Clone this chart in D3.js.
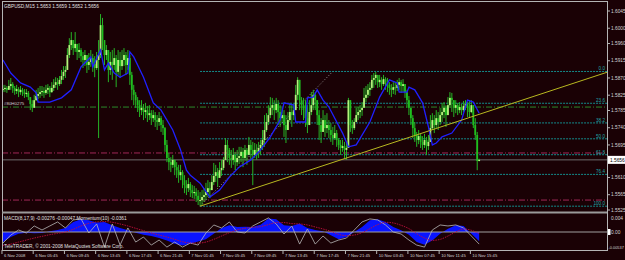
<!DOCTYPE html>
<html>
<head>
<meta charset="utf-8">
<script src="https://cdn.jsdelivr.net/npm/d3@7"></script>
<style>
  html, body { margin: 0; padding: 0; background: #1a0105; }
  svg { display: block; font-family: "Liberation Sans", Arial, sans-serif; }
</style>
</head>
<body>
<svg width="625" height="260"></svg>
<script>
// GBPUSD M15, bars 0..244 (6 Nov 01:45 -> 10 Nov ~17:00)
const close = [
  1.5841,1.5844,1.5839,1.5849,1.5854,1.5844,1.5836,1.5841,1.5833,1.5839,
  1.5833,1.5828,1.5831,1.5820,1.5802,1.5792,1.5812,1.5823,1.5828,1.5833,
  1.5836,1.5831,1.5839,1.5844,1.5833,1.5844,1.5852,1.5859,1.5854,1.5865,
  1.5875,1.5886,1.5891,1.5930,1.5956,1.5969,1.5948,1.5959,1.5938,1.5943,
  1.5927,1.5917,1.5930,1.5904,1.5912,1.5922,1.5907,1.5896,1.5917,1.5930,
  1.6008,1.5969,1.5930,1.5943,1.5891,1.5912,1.5904,1.5922,1.5886,1.5917,
  1.5901,1.5917,1.5930,1.5904,1.5922,1.5878,1.5839,1.5826,1.5812,1.5799,
  1.5786,1.5792,1.5781,1.5786,1.5773,1.5778,1.5765,1.5773,1.5760,1.5755,
  1.5765,1.5747,1.5739,1.5695,1.5661,1.5650,1.5643,1.5656,1.5637,1.5629,
  1.5616,1.5624,1.5603,1.5590,1.5582,1.5593,1.5577,1.5569,1.5572,1.5562,
  1.5551,1.5551,1.5559,1.5564,1.5572,1.5582,1.5577,1.5598,1.5614,1.5624,
  1.5609,1.5629,1.5635,1.5656,1.5695,1.5682,1.5661,1.5656,1.5669,1.5650,
  1.5661,1.5666,1.5677,1.5661,1.5682,1.5669,1.5695,1.5682,1.5669,1.5682,
  1.5677,1.5687,1.5695,1.5708,1.5734,1.5755,1.5773,1.5792,1.5799,1.5786,
  1.5802,1.5781,1.5765,1.5773,1.5747,1.5734,1.5760,1.5781,1.5773,1.5786,
  1.5826,1.5865,1.5812,1.5799,1.5786,1.5765,1.5747,1.5781,1.5799,1.5826,
  1.5812,1.5773,1.5747,1.5729,1.5760,1.5739,1.5747,1.5734,1.5721,1.5713,
  1.5726,1.5708,1.5695,1.5687,1.5692,1.5682,1.5687,1.5812,1.5747,1.5739,
  1.5755,1.5773,1.5781,1.5786,1.5792,1.5818,1.5826,1.5839,1.5844,1.5865,
  1.5870,1.5878,1.5859,1.5865,1.5854,1.5867,1.5859,1.5852,1.5844,1.5839,
  1.5846,1.5844,1.5852,1.5859,1.5849,1.5854,1.5833,1.5812,1.5792,1.5765,
  1.5739,1.5721,1.5708,1.5718,1.5703,1.5695,1.5708,1.5692,1.5703,1.5739,
  1.5760,1.5747,1.5765,1.5755,1.5773,1.5781,1.5792,1.5773,1.5799,1.5818,
  1.5812,1.5792,1.5799,1.5786,1.5794,1.5786,1.5797,1.5802,1.5792,1.5781,
  1.5799,1.5747,1.5721,1.5653,1.5656
];
const high = [
  1.5852,1.5852,1.5849,1.5865,1.5870,1.5859,1.5849,1.5852,1.5846,1.5849,
  1.5844,1.5841,1.5841,1.5836,1.5820,1.5812,1.5826,1.5839,1.5844,1.5849,
  1.5849,1.5846,1.5852,1.5854,1.5849,1.5859,1.5867,1.5872,1.5870,1.5875,
  1.5891,1.5901,1.5901,1.5948,1.5974,1.5990,1.5969,1.5990,1.5959,1.5961,
  1.5948,1.5938,1.5943,1.5930,1.5935,1.5943,1.5933,1.5927,1.5938,1.5969,
  1.6037,1.6027,1.5969,1.5956,1.5943,1.5938,1.5943,1.5948,1.5930,1.5943,
  1.5938,1.5943,1.5948,1.5938,1.5943,1.5930,1.5886,1.5852,1.5833,1.5820,
  1.5812,1.5812,1.5802,1.5805,1.5797,1.5799,1.5786,1.5786,1.5781,1.5773,
  1.5781,1.5771,1.5760,1.5742,1.5708,1.5674,1.5663,1.5669,1.5656,1.5650,
  1.5643,1.5643,1.5629,1.5616,1.5603,1.5609,1.5598,1.5590,1.5588,1.5582,
  1.5577,1.5572,1.5577,1.5582,1.5596,1.5603,1.5598,1.5616,1.5648,1.5643,
  1.5635,1.5650,1.5656,1.5663,1.5713,1.5708,1.5687,1.5682,1.5687,1.5677,
  1.5682,1.5690,1.5690,1.5687,1.5695,1.5687,1.5716,1.5708,1.5703,1.5700,
  1.5697,1.5703,1.5708,1.5734,1.5773,1.5778,1.5799,1.5820,1.5818,1.5812,
  1.5818,1.5812,1.5799,1.5792,1.5786,1.5773,1.5781,1.5805,1.5799,1.5802,
  1.5852,1.5872,1.5865,1.5820,1.5818,1.5812,1.5799,1.5812,1.5833,1.5839,
  1.5833,1.5812,1.5786,1.5765,1.5786,1.5773,1.5778,1.5760,1.5752,1.5742,
  1.5747,1.5734,1.5713,1.5708,1.5708,1.5703,1.5703,1.5818,1.5812,1.5760,
  1.5765,1.5792,1.5794,1.5799,1.5807,1.5844,1.5849,1.5854,1.5859,1.5878,
  1.5883,1.5886,1.5878,1.5878,1.5872,1.5878,1.5872,1.5870,1.5859,1.5854,
  1.5859,1.5859,1.5865,1.5870,1.5865,1.5867,1.5854,1.5839,1.5823,1.5792,
  1.5773,1.5755,1.5729,1.5734,1.5724,1.5718,1.5724,1.5716,1.5721,1.5773,
  1.5778,1.5773,1.5786,1.5781,1.5792,1.5805,1.5807,1.5799,1.5820,1.5833,
  1.5831,1.5812,1.5812,1.5805,1.5807,1.5802,1.5810,1.5812,1.5807,1.5812,
  1.5812,1.5799,1.5765,1.5729,1.5659
];
const low = [
  1.5833,1.5833,1.5831,1.5839,1.5839,1.5831,1.5826,1.5828,1.5820,1.5826,
  1.5823,1.5818,1.5820,1.5812,1.5786,1.5781,1.5797,1.5810,1.5815,1.5818,
  1.5823,1.5818,1.5826,1.5828,1.5820,1.5831,1.5836,1.5844,1.5839,1.5849,
  1.5854,1.5865,1.5870,1.5891,1.5922,1.5943,1.5930,1.5938,1.5917,1.5922,
  1.5912,1.5896,1.5901,1.5883,1.5891,1.5899,1.5886,1.5872,1.5891,1.5713,
  1.5922,1.5943,1.5904,1.5917,1.5859,1.5878,1.5865,1.5891,1.5846,1.5878,
  1.5870,1.5891,1.5901,1.5878,1.5891,1.5852,1.5812,1.5799,1.5792,1.5781,
  1.5768,1.5773,1.5760,1.5765,1.5755,1.5760,1.5747,1.5755,1.5742,1.5734,
  1.5745,1.5729,1.5721,1.5677,1.5650,1.5629,1.5624,1.5635,1.5616,1.5609,
  1.5596,1.5603,1.5582,1.5569,1.5564,1.5572,1.5559,1.5556,1.5554,1.5546,
  1.5538,1.5535,1.5538,1.5546,1.5551,1.5559,1.5556,1.5577,1.5590,1.5598,
  1.5585,1.5609,1.5614,1.5629,1.5656,1.5650,1.5643,1.5635,1.5643,1.5629,
  1.5640,1.5645,1.5650,1.5637,1.5656,1.5643,1.5669,1.5656,1.5590,1.5661,
  1.5656,1.5661,1.5669,1.5682,1.5690,1.5729,1.5747,1.5765,1.5773,1.5760,
  1.5778,1.5747,1.5742,1.5755,1.5716,1.5700,1.5734,1.5755,1.5742,1.5760,
  1.5794,1.5812,1.5786,1.5773,1.5760,1.5742,1.5726,1.5755,1.5773,1.5786,
  1.5786,1.5747,1.5708,1.5700,1.5734,1.5716,1.5726,1.5713,1.5703,1.5695,
  1.5708,1.5690,1.5682,1.5669,1.5677,1.5661,1.5656,1.5734,1.5729,1.5724,
  1.5734,1.5755,1.5760,1.5765,1.5771,1.5799,1.5807,1.5818,1.5823,1.5839,
  1.5844,1.5852,1.5844,1.5846,1.5839,1.5849,1.5839,1.5833,1.5826,1.5820,
  1.5828,1.5826,1.5836,1.5839,1.5831,1.5833,1.5818,1.5792,1.5773,1.5747,
  1.5713,1.5703,1.5690,1.5697,1.5687,1.5682,1.5687,1.5669,1.5682,1.5716,
  1.5734,1.5726,1.5739,1.5734,1.5747,1.5755,1.5765,1.5742,1.5773,1.5792,
  1.5781,1.5768,1.5778,1.5773,1.5778,1.5773,1.5781,1.5786,1.5768,1.5768,
  1.5778,1.5739,1.5708,1.5629,1.5652
];

// blue moving average, read at these bars
const maBar = [0,4,9,14,17,18,24,30,35,40,45,46,50,52,54,57,60,64,65,67,
  72,77,81,87,91,94,96,101,106,111,116,121,127,132,137,142,144,149,150,155,
  156,159,161,164,167,174,177,181,188,193,198,202,203,207,208,211,215,218,220,222,
  225,230,235,238,241,244];
const maPrice = [1.5917,1.5883,1.5857,1.5846,1.5831,1.5807,1.5807,1.5818,1.5839,1.5899,
  1.5925,1.5899,1.5943,1.5891,1.5909,1.5883,1.5872,1.5883,1.5938,1.5925,
  1.5872,1.5805,1.5786,1.5734,1.5682,1.5629,1.5616,1.5595,1.5559,1.5577,
  1.5611,1.5637,1.5656,1.5682,1.5716,1.5760,1.5805,1.5799,1.5755,1.5755,
  1.5818,1.5820,1.5839,1.5812,1.5794,1.5726,1.5690,1.5695,1.5755,1.5820,
  1.5865,1.5857,1.5833,1.5833,1.5846,1.5839,1.5805,1.5742,1.5695,1.5700,
  1.5716,1.5726,1.5760,1.5812,1.5807,1.5778];

// MACD window, read every 4th bar
const macd = [-0.0030,-0.0015,-0.0005,-0.0002,-0.0004,-0.0003,0.0002,0.0006,0.0012,0.0030,
  0.0038,0.0035,0.0028,0.0030,0.0020,0.0012,0.0005,-0.0002,-0.0008,-0.0012,
  -0.0018,-0.0025,-0.0035,-0.0040,-0.0035,-0.0028,-0.0022,-0.0005,0.0012,0.0020,
  0.0015,0.0016,0.0015,0.0022,0.0040,0.0038,0.0020,0.0018,0.0025,0.0012,
  0.0006,0.0002,-0.0010,-0.0022,-0.0015,0.0000,0.0015,0.0035,0.0038,0.0030,
  0.0015,0.0005,-0.0008,-0.0030,-0.0038,-0.0025,-0.0005,0.0010,0.0020,0.0018,
  -0.0005,-0.00276];
const signal = [-0.0040,-0.0036,-0.0030,-0.0024,-0.0018,-0.0013,-0.0008,-0.0004,0.0000,0.0008,
  0.0018,0.0026,0.0030,0.0031,0.0029,0.0024,0.0018,0.0011,0.0004,-0.0003,
  -0.0009,-0.0015,-0.0022,-0.0029,-0.0033,-0.0033,-0.0030,-0.0022,-0.0012,-0.0002,
  0.0006,0.0011,0.0014,0.0016,0.0022,0.0028,0.0028,0.0025,0.0024,0.0021,
  0.0015,0.0009,0.0002,-0.0007,-0.0011,-0.0009,-0.0002,0.0010,0.0022,0.0029,
  0.0027,0.0020,0.0010,-0.0005,-0.0018,-0.0025,-0.0022,-0.0012,0.0000,0.0009,
  0.0005,-0.00047];
const momentum = [-0.033,-0.009,0.006,-0.003,0.018,0.006,0.018,0.030,0.012,0.036,
  0.039,-0.003,0.024,-0.045,0.024,-0.039,0.012,-0.030,-0.015,-0.039,
  -0.024,-0.045,-0.030,-0.045,-0.033,-0.039,-0.003,0.021,0.012,0.030,
  0.000,-0.003,0.018,0.030,0.042,0.024,-0.006,0.018,-0.036,0.009,
  -0.036,-0.012,-0.033,-0.024,-0.018,0.006,0.030,0.039,0.036,0.021,
  0.000,-0.006,-0.024,-0.039,-0.045,0.006,0.021,0.018,0.021,0.012,
  -0.012,-0.0361];

// 1.5650 sits under the bid box, so it is not labelled
const priceTicks = [1.6045,1.6000,1.5960,1.5915,1.5870,1.5825,1.5785,1.5740,1.5695,1.5610,1.5565,1.5525];
const macdTicks = [0.004, 0, -0.00537];
const macdTickLabels = ["0.004", "0.00", "-0.00537"];
const timeBars = [0,16,32,48,64,80,96,112,128,144,160,176,192,208,224,240];
const timeLabels = ["6 Nov 2008","6 Nov 05:45","6 Nov 09:45","6 Nov 13:45","6 Nov 17:45","6 Nov 21:45",
  "7 Nov 01:45","7 Nov 05:45","7 Nov 09:45","7 Nov 13:45","7 Nov 17:45","7 Nov 21:45",
  "10 Nov 03:45","10 Nov 07:45","10 Nov 11:45","10 Nov 15:45"];

// objects on the chart
const fibRatios = [0, 23.6, 38.2, 50, 61.8, 76.4, 100];
const fibBars = [101, 169], fibPrices = [1.5535, 1.5887];
const trendBars = [101, 244], trendPrices = [1.5535, 1.5775];
const greenLine = 1.5794, greenLineName = "#80H0275";
const redLines = [1.5674, 1.5551];
const bid = 1.5656;

var svg = d3.select("svg"),
    width = +svg.attr("width"),
    height = +svg.attr("height");

var x = d3.scaleLinear().domain([-0.5, 309.5]).range([2, 607]),
    y = d3.scaleLinear().domain([1.5525, 1.6045]).range([210, 11]),
    ym = d3.scaleLinear().domain([-0.00537, 0.00537]).range([250, 214]);

var x0 = 2, x1 = 607;

svg.append("rect").attr("width", width).attr("height", height).attr("fill", "#1a0105");

var defs = svg.append("defs");
defs.append("clipPath").attr("id", "cmain")
    .append("rect").attr("x", 2).attr("y", 2).attr("width", 605).attr("height", 209);
defs.append("clipPath").attr("id", "csub")
    .append("rect").attr("x", 2).attr("y", 214).attr("width", 605).attr("height", 36);

var main = svg.append("g").attr("clip-path", "url(#cmain)");

// horizontal lines
main.append("line")
    .attr("x1", x0).attr("x2", x1)
    .attr("y1", y(greenLine)).attr("y2", y(greenLine))
    .attr("stroke", "#2a8a2a").attr("stroke-dasharray", "6,2,1,2");
main.selectAll(".red").data(redLines).enter().append("line")
    .attr("x1", x0).attr("x2", x1)
    .attr("y1", d => y(d)).attr("y2", d => y(d))
    .attr("stroke", "#a02858").attr("stroke-dasharray", "6,2,1,2");
main.append("line")
    .attr("x1", x0).attr("x2", x1)
    .attr("y1", y(bid)).attr("y2", y(bid))
    .attr("stroke", "#6c6c6c");

// fibonacci
var fibRange = fibPrices[1] - fibPrices[0];
var fib = main.append("g");
fib.selectAll("line").data(fibRatios).enter().append("line")
   .attr("x1", x(fibBars[0])).attr("x2", x1)
   .attr("y1", d => y(fibPrices[1] - d / 100 * fibRange))
   .attr("y2", d => y(fibPrices[1] - d / 100 * fibRange))
   .attr("stroke", "#138c8c").attr("stroke-dasharray", "2,1");
fib.append("line")
   .attr("x1", x(fibBars[0])).attr("y1", y(fibPrices[0]))
   .attr("x2", x(fibBars[1])).attr("y2", y(fibPrices[1]))
   .attr("stroke", "#9a9a9a").attr("stroke-dasharray", "1,2");

// candles
var bars = close.map((c, i) => {
  var o = i ? close[i - 1] : c;
  return {i: i, o: o, c: c, h: Math.max(high[i], o, c), l: Math.min(low[i], o, c)};
});
main.append("g").selectAll("line").data(bars).enter().append("line")
    .attr("x1", d => x(d.i)).attr("x2", d => x(d.i))
    .attr("y1", d => y(d.h)).attr("y2", d => y(d.l))
    .attr("stroke", "#26b426").attr("stroke-width", 1);
main.append("g").selectAll("rect").data(bars).enter().append("rect")
    .attr("x", d => x(d.i) - 0.9)
    .attr("width", 1.8)
    .attr("y", d => y(Math.max(d.o, d.c)))
    .attr("height", d => Math.max(1, Math.abs(y(d.o) - y(d.c))))
    .attr("fill", d => d.c >= d.o ? "#b4f27c" : "#1fbf1f");

// moving average
main.append("path")
    .datum(maBar.map((b, i) => [b, maPrice[i]]))
    .attr("fill", "none").attr("stroke", "#2020ff").attr("stroke-width", 1.3)
    .attr("d", d3.line().x(d => x(d[0])).y(d => y(d[1])));

// trendline (ray to the right edge)
var slope = (trendPrices[1] - trendPrices[0]) / (trendBars[1] - trendBars[0]);
var endBar = x.domain()[1];
main.append("line")
    .attr("x1", x(trendBars[0])).attr("y1", y(trendPrices[0]))
    .attr("x2", x(endBar)).attr("y2", y(trendPrices[0] + slope * (endBar - trendBars[0])))
    .attr("stroke", "#b8b820").attr("stroke-width", 1);

// fib labels
fib.selectAll("text").data(fibRatios).enter().append("text")
   .attr("x", 605).attr("y", d => y(fibPrices[1] - d / 100 * fibRange) - 1.2)
   .attr("text-anchor", "end")
   .attr("font-size", 4.6).attr("fill", "#1fa4a4")
   .text(d => d.toFixed(1));

main.append("text")
    .attr("x", 4).attr("y", y(greenLine) - 2)
    .attr("font-size", 4.4).attr("fill", "#d0d0d0")
    .text(greenLineName);

// MACD window
var sub = svg.append("g").attr("clip-path", "url(#csub)");
var idx = macd.map((v, i) => i * 4);

sub.append("path")
    .datum(macd)
    .attr("fill", "#0a14ff")
    .attr("d", d3.area().x((d, i) => x(idx[i])).y0(ym(0)).y1(d => ym(d)));
sub.append("line")
    .attr("x1", x0).attr("x2", x1).attr("y1", ym(0)).attr("y2", ym(0))
    .attr("stroke", "#a0a0a0");
sub.append("path")
    .datum(momentum)
    .attr("fill", "none").attr("stroke", "#b8b8b8").attr("stroke-width", 0.8)
    .attr("d", d3.line().x((d, i) => x(idx[i])).y(d => ym(d / 10)));
sub.append("path")
    .datum(signal)
    .attr("fill", "none").attr("stroke", "#c0103c").attr("stroke-width", 0.9)
    .attr("stroke-dasharray", "1.5,1")
    .attr("d", d3.line().curve(d3.curveMonotoneX).x((d, i) => x(idx[i])).y(d => ym(d)));

// frames
var frame = svg.append("g").attr("stroke", "#b4b4b4").attr("fill", "none");
frame.append("line").attr("x1", 2.5).attr("x2", 2.5).attr("y1", 1).attr("y2", 251);
frame.append("line").attr("x1", 2).attr("x2", x1).attr("y1", 1.5).attr("y2", 1.5);
frame.append("line").attr("x1", x1 + 0.5).attr("x2", x1 + 0.5).attr("y1", 1).attr("y2", 251);
frame.append("rect").attr("x", 2).attr("y", 211.5).attr("width", 605).attr("height", 2)
     .attr("stroke", "none").attr("fill", "#9a9a9a");
frame.append("line").attr("x1", 2).attr("x2", x1).attr("y1", 250.5).attr("y2", 250.5);

// right axis
var axis = svg.append("g").attr("font-size", 4.8).attr("fill", "#d4d4d4");
axis.selectAll(".pt").data(priceTicks).enter().append("line")
    .attr("x1", x1).attr("x2", x1 + 3)
    .attr("y1", d => y(d)).attr("y2", d => y(d))
    .attr("stroke", "#b4b4b4");
axis.selectAll(".pl").data(priceTicks).enter().append("text")
    .attr("x", 611).attr("y", d => y(d) + 1.7)
    .text(d => d.toFixed(4));

axis.append("rect")
    .attr("x", 608).attr("y", y(bid) - 4).attr("width", 17).attr("height", 8)
    .attr("fill", "#ffffff");
axis.append("text")
    .attr("x", 610).attr("y", y(bid) + 1.7).attr("fill", "#000000")
    .text(bid.toFixed(4));

axis.selectAll(".ml").data(macdTicks).enter().append("text")
    .attr("x", d => d < 0 ? 608.5 : 611)
    .attr("y", d => d < 0 ? ym(d) - 1.5 : ym(d) + 1.7)
    .attr("font-size", d => d < 0 ? 3.9 : 4.8)
    .text((d, i) => macdTickLabels[i]);
axis.append("rect")
    .attr("x", 608).attr("y", ym(0) - 3).attr("width", 2.5).attr("height", 6)
    .attr("fill", "#ffffff");

// time axis
var tg = svg.append("g").attr("font-size", 4.2).attr("fill", "#d4d4d4");
tg.selectAll("line").data(timeBars).enter().append("line")
  .attr("x1", d => x(d) - 1).attr("x2", d => x(d) - 1)
  .attr("y1", 250).attr("y2", 254)
  .attr("stroke", "#b4b4b4");
tg.selectAll("text").data(timeBars).enter().append("text")
  .attr("x", d => x(d) + 1).attr("y", 256.5)
  .text((d, i) => timeLabels[i]);

// window captions
var cap = svg.append("g").attr("font-size", 4.8).attr("fill", "#e0e0e0");
cap.append("text").attr("x", 4).attr("y", 7.5)
   .text("GBPUSD,M15  1.5653 1.5659 1.5652 1.5656");
cap.append("text").attr("x", 4).attr("y", 219.5)
   .text("MACD(8,17,9) -0.00276 -0.00047  Momentum(10) -0.0361");
cap.append("text").attr("x", 4).attr("y", 248)
   .text("TeleTRADER, \u00a9 2001-2008 MetaQuotes Software Corp.");
</script>
</body>
</html>
